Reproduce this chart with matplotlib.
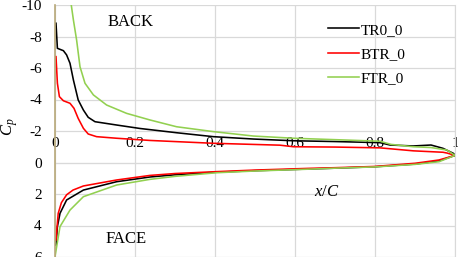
import matplotlib
matplotlib.use("Agg")
import matplotlib.pyplot as plt

plt.rcParams['font.family'] = ['Liberation Serif', 'DejaVu Serif']
plt.rcParams['mathtext.fontset'] = 'custom'
plt.rcParams['mathtext.it'] = 'Liberation Serif:italic'
plt.rcParams['mathtext.rm'] = 'Liberation Serif'

series_names = ["TR0_0", "BTR_0", "FTR_0"]
series_colors = ["#000000", "#ff0000", "#92d050"]

# Back (suction) side
tr_back_x = [0.0025, 0.006, 0.021, 0.029, 0.0375, 0.046, 0.058, 0.071, 0.083, 0.10, 0.154, 0.2125,
             0.304, 0.396, 0.496, 0.596, 0.70, 0.8125, 0.8375, 0.896, 0.94, 0.97, 0.996, 1.0]
tr_back_cp = [-8.84, -7.25, -7.1, -6.83, -6.3, -5.24, -3.97, -3.33, -2.87, -2.59, -2.38, -2.16,
              -1.89, -1.64, -1.49, -1.38, -1.33, -1.26, -1.11, -1.05, -1.11, -0.9, -0.58, -0.45]

btr_back_x = [0.0025, 0.006, 0.011, 0.021, 0.0375, 0.0475, 0.058, 0.071, 0.083, 0.104, 0.154, 0.2375,
              0.396, 0.5625, 0.596, 0.70, 0.8125, 0.896, 0.97, 0.98, 1.0]
btr_back_cp = [-6.72, -5.03, -4.18, -3.92, -3.76, -3.44, -2.8, -2.17, -1.81, -1.64, -1.54, -1.4,
               -1.22, -1.1, -1.0, -0.98, -0.93, -0.74, -0.65, -0.6, -0.45]

ftr_back_x = [0.036, 0.039, 0.046, 0.054, 0.0625, 0.075, 0.096, 0.129, 0.179, 0.2375, 0.304, 0.396,
              0.496, 0.596, 0.70, 0.8125, 0.84, 0.896, 0.94, 0.98, 1.0]
ftr_back_cp = [-10.6, -10.3, -9.05, -7.78, -6.08, -5.03, -4.29, -3.65, -3.12, -2.7, -2.27, -1.96,
               -1.68, -1.54, -1.45, -1.35, -1.15, -1.0, -0.95, -0.79, -0.45]

# Face (pressure) side
tr_face_x = [0.0025, 0.006, 0.0125, 0.029, 0.071, 0.154, 0.2375, 0.3, 0.4, 0.5, 0.6, 0.7, 0.8, 0.9, 0.96, 1.0]
tr_face_cp = [5.24, 4.07, 3.23, 2.38, 1.75, 1.22, 0.92, 0.78, 0.62, 0.52, 0.44, 0.36, 0.27, 0.1, -0.1, -0.45]

btr_face_x = [0.0025, 0.008, 0.016, 0.029, 0.045, 0.071, 0.154, 0.2375, 0.3, 0.404, 0.5, 0.6375, 0.7, 0.8, 0.9, 0.96, 1.0]
btr_face_cp = [4.92, 3.23, 2.55, 2.05, 1.75, 1.49, 1.11, 0.82, 0.7, 0.58, 0.48, 0.37, 0.33, 0.25, 0.05, -0.16, -0.45]

ftr_face_x = [0.0, 0.0125, 0.0375, 0.071, 0.154, 0.2375, 0.3, 0.404, 0.5, 0.6375, 0.7, 0.8, 0.9, 0.96, 1.0]
ftr_face_cp = [5.98, 4.07, 3.02, 2.17, 1.43, 1.07, 0.88, 0.65, 0.54, 0.42, 0.36, 0.28, 0.12, -0.05, -0.45]

back_x = [tr_back_x, btr_back_x, ftr_back_x]
back_cp = [tr_back_cp, btr_back_cp, ftr_back_cp]
face_x = [tr_face_x, btr_face_x, ftr_face_x]
face_cp = [tr_face_cp, btr_face_cp, ftr_face_cp]

x_ticks = [0, 0.2, 0.4, 0.6, 0.8, 1]
x_tick_labels = ["0", "0.2", "0.4", "0.6", "0.8", "1"]
y_ticks = [-10, -8, -6, -4, -2, 0, 2, 4, 6]
y_tick_labels = ["-10", "-8", "-6", "-4", "-2", "0", "2", "4", "6"]

grid_c = "#d9d9d9"

fig = plt.figure(figsize=(4.58, 2.57), dpi=100)
ax = fig.add_axes([55 / 458, 0.0, 400 / 458, 252 / 257])

for bx, bc, fx, fc, name, col in zip(back_x, back_cp, face_x, face_cp, series_names, series_colors):
    ax.plot(bx, bc, color=col, lw=1.15, label=name, zorder=3)
    ax.plot(fx, fc, color=col, lw=1.15, zorder=3)

ax.set_xlim(0, 1)
ax.set_ylim(6, -10)
ax.set_yticks(y_ticks)
ax.set_yticklabels(y_tick_labels)
ax.set_xticks(x_ticks)
ax.set_xticklabels(x_tick_labels)
ax.grid(True, color=grid_c, lw=0.9, zorder=0)
ax.set_axisbelow(True)

ax.xaxis.tick_top()
ax.spines['top'].set_position(('data', 0))
for s in ['top', 'bottom', 'right']:
    ax.spines[s].set_color(grid_c)
ax.spines['bottom'].set_visible(False)
ax.spines['left'].set_color('#b8a878')
ax.spines['left'].set_linewidth(1.2)
ax.spines['left'].set_zorder(4)

ax.tick_params(axis='x', length=0, pad=9, labelsize=11)
ax.tick_params(axis='y', length=0, pad=9.5, labelsize=11)

ax.text(0.19, -8.9, "BACK", fontsize=12, ha='center', va='center')
ax.text(0.177, 4.86, "FACE", fontsize=12, ha='center', va='center')
ax.text(0.68, 1.87, "$x/C$", fontsize=12, ha='center', va='center')
fig.text(9.5 / 458, 1 - 127 / 257, "$C_p$", fontsize=12, rotation=90, ha='center', va='center')

ax.legend(loc='upper left', bbox_to_anchor=(0.6825, 0.928), frameon=False, fontsize=11,
          handlelength=2.0, handletextpad=0.15, labelspacing=0.7, borderpad=0, borderaxespad=0)

fig.savefig("out.png", dpi=100)
